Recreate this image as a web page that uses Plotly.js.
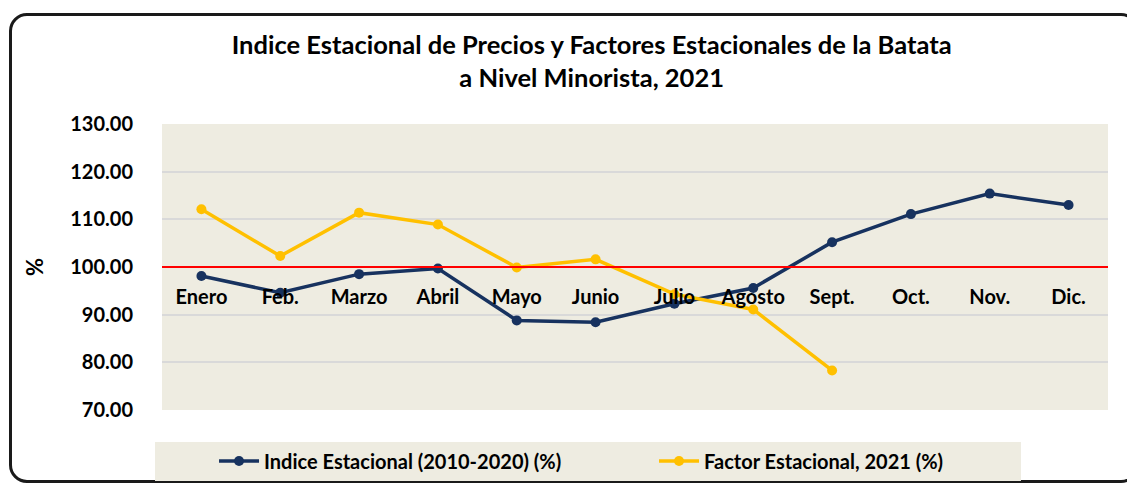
<!DOCTYPE html>
<html>
<head>
<meta charset="utf-8">
<script src="https://cdn.plot.ly/plotly-3.0.1.min.js"></script>
<style>
  html, body { margin: 0; padding: 0; background: #fff; overflow: hidden; }
  #wrap { position: relative; width: 1127px; height: 486px; }
  #frame {
    position: absolute; left: 9px; top: 13px; width: 1130px; height: 470px;
    border: 3px solid #1a1a1a; border-radius: 18px; box-sizing: border-box;
  }
  #plot { position: absolute; left: 0; top: 0; width: 1127px; height: 486px; }
</style>
</head>
<body>
<div id="wrap">
  <div id="frame"></div>
  <div id="plot"></div>
</div>
<script>
// =========================
// Data
// =========================
const months = ['Enero', 'Feb.', 'Marzo', 'Abril', 'Mayo', 'Junio', 'Julio', 'Agosto', 'Sept.', 'Oct.', 'Nov.', 'Dic.'];
const indiceEstacional = [98.1, 94.6, 98.5, 99.7, 88.8, 88.4, 92.3, 95.6, 105.2, 111.1, 115.4, 113.0];
const factorEstacional = [112.1, 102.3, 111.4, 108.9, 99.9, 101.6, 94.3, 91.1, 78.3];
const yTicks = [70, 80, 90, 100, 110, 120, 130];

const fontFam = 'Lato, "Open Sans", sans-serif';

// =========================
// Traces
// =========================
const data = [
  {
    type: 'scatter',
    mode: 'lines+markers',
    name: 'Indice Estacional (2010-2020) (%)',
    x: months,
    y: indiceEstacional,
    line: { color: '#17325f', width: 3.5 },
    marker: { color: '#17325f', size: 10 }
  },
  {
    type: 'scatter',
    mode: 'lines+markers',
    name: 'Factor Estacional, 2021 (%)',
    x: months.slice(0, factorEstacional.length),
    y: factorEstacional,
    line: { color: '#ffc000', width: 3.5 },
    marker: { color: '#ffc000', size: 10 }
  }
];

// =========================
// Layout
// =========================
const layout = {
  width: 1127,
  height: 486,
  paper_bgcolor: 'rgba(0,0,0,0)',
  plot_bgcolor: '#eeece1',
  margin: { l: 162, r: 19, t: 124, b: 76, autoexpand: false },
  title: {
    text: 'Indice Estacional de Precios y Factores Estacionales de la Batata<br>a Nivel Minorista, 2021',
    font: { family: fontFam, size: 25.5, color: '#000', weight: 'bold' },
    x: 0.525, xanchor: 'center',
    y: 0.889, yanchor: 'middle'
  },
  xaxis: {
    type: 'category',
    anchor: 'free',
    position: 0.5,
    range: [-0.5, 11.5],
    showgrid: false,
    showline: false,
    zeroline: false,
    ticks: 'outside',
    ticklen: 12,
    tickcolor: 'rgba(0,0,0,0)',
    tickfont: { family: fontFam, size: 20, color: '#000', weight: 'bold' }
  },
  yaxis: {
    range: [70, 130],
    tickvals: yTicks,
    ticktext: yTicks.map(v => v.toFixed(2)),
    showgrid: true,
    gridcolor: '#d9d9d9',
    gridwidth: 1.5,
    zeroline: false,
    showline: false,
    ticks: 'outside',
    ticklen: 24,
    tickcolor: 'rgba(0,0,0,0)',
    tickfont: { family: fontFam, size: 20, color: '#000', weight: 'bold' },
    title: {
      text: '%',
      standoff: 20,
      font: { family: fontFam, size: 22, color: '#000', weight: 'bold' }
    }
  },
  shapes: [
    {
      type: 'line', xref: 'paper', yref: 'y',
      x0: 0, x1: 1, y0: 100, y1: 100,
      line: { color: '#ff0000', width: 2 }
    },
    {
      type: 'rect', xref: 'paper', yref: 'paper', layer: 'below',
      x0: -0.0074, x1: 0.908, y0: -0.248, y1: -0.112,
      fillcolor: '#eeece1', line: { width: 0 }
    }
  ],
  showlegend: true,
  legend: {
    orientation: 'h',
    x: 0.055, xanchor: 'left',
    yref: 'container',
    y: 0.0514, yanchor: 'middle',
    bgcolor: 'rgba(0,0,0,0)',
    font: { family: fontFam, size: 20, color: '#000', weight: 'bold' },
    itemwidth: 40,
    entrywidth: 385,
    traceorder: 'normal'
  }
};

Plotly.newPlot('plot', data, layout, { displayModeBar: false, responsive: false });
</script>
</body>
</html>
